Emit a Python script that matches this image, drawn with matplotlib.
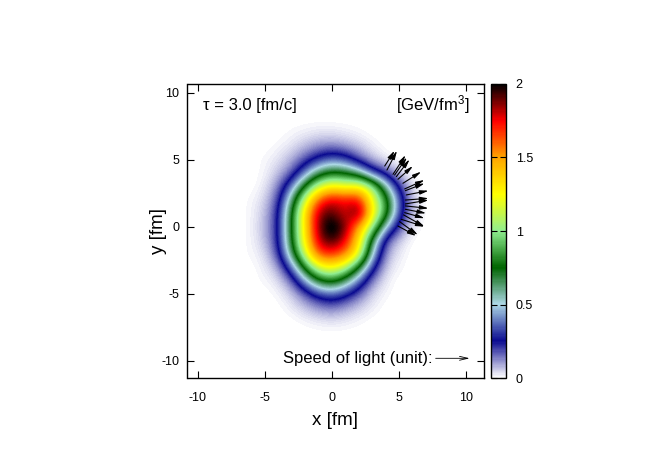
import numpy as np
import matplotlib
matplotlib.use("Agg")
import matplotlib.pyplot as plt
from matplotlib.colors import LinearSegmentedColormap

plt.rcParams['font.family'] = ['Liberation Sans', 'DejaVu Sans']
plt.rcParams['mathtext.fontset'] = 'custom'
plt.rcParams['mathtext.rm'] = 'Liberation Sans'
plt.rcParams['mathtext.default'] = 'regular'
plt.rcParams['axes.unicode_minus'] = False
plt.rcParams['axes.linewidth'] = 1.0

# energy density, one row per y = 8 ... -8, one column per x = -7 ... 8
grid_x = [-7, -6, -5, -4, -3, -2, -1, 0, 1, 2, 3, 4, 5, 6, 7, 8]
grid_y = [8, 7, 6, 5, 4, 3, 2, 1, 0, -1, -2, -3, -4, -5, -6, -7, -8]
density = [
    [0, 0, 0, 0, 0, 0, 0, 0, 0, 0, 0, 0, 0, 0, 0, 0],
    [0, 0, 0, 0, .01, .02, .03, .03, .02, .01, 0, 0, 0, 0, 0, 0],
    [0, 0, 0, .01, .03, .07, .11, .13, .10, .06, .02, 0, 0, 0, 0, 0],
    [0, 0, .01, .03, .08, .18, .30, .38, .33, .18, .07, .02, 0, 0, 0, 0],
    [0, 0, .01, .06, .16, .40, .66, .78, .75, .62, .35, .20, .04, 0, 0, 0],
    [0, 0, .02, .12, .38, .78, 1.15, 1.32, 1.22, 1.3, 1.05, .60, .22, .02, 0, 0],
    [0, .01, .04, .18, .60, 1.15, 1.65, 1.8, 1.75, 1.78, 1.25, .85, .36, .05, 0, 0],
    [0, .01, .06, .22, .72, 1.35, 1.85, 1.95, 1.75, 1.98, 1.3, .85, .33, .05, 0, 0],
    [0, .01, .07, .22, .74, 1.32, 1.88, 2.1, 1.9, 1.5, 1.05, .50, .18, .02, 0, 0],
    [0, .01, .06, .22, .72, 1.3, 1.82, 1.98, 1.78, 1.35, .68, .18, .05, 0, 0, 0],
    [0, .01, .03, .18, .62, 1.15, 1.65, 1.7, 1.58, 1.25, .52, .10, .02, 0, 0, 0],
    [0, 0, .02, .08, .36, .80, 1.18, 1.28, 1.12, .75, .30, .05, .01, 0, 0, 0],
    [0, 0, .01, .03, .14, .44, .72, .82, .65, .38, .12, .02, 0, 0, 0, 0],
    [0, 0, 0, .01, .05, .16, .30, .36, .28, .16, .04, .01, 0, 0, 0, 0],
    [0, 0, 0, 0, .02, .06, .11, .14, .10, .05, .02, 0, 0, 0, 0, 0],
    [0, 0, 0, 0, 0, .01, .02, .03, .02, .01, 0, 0, 0, 0, 0, 0],
    [0, 0, 0, 0, 0, 0, 0, 0, 0, 0, 0, 0, 0, 0, 0, 0],
]

# arrows, tail and tip in fm
tail_x = [3.96, 4.13, 4.58, 4.70, 4.83, 4.95, 5.32, 5.45, 5.50, 5.57, 5.50, 5.50, 5.50, 5.50, 5.45, 5.37, 5.20, 5.07, 4.95]
tail_y = [4.55, 4.25, 3.93, 3.88, 3.76, 3.56, 3.26, 2.84, 2.71, 2.39, 2.01, 1.72, 1.57, 1.32, 1.07, 0.90, 0.57, 0.40, 0.07]
tip_x = [4.70, 4.88, 5.52, 5.62, 5.82, 6.07, 6.69, 6.94, 6.94, 7.24, 7.24, 7.24, 7.24, 7.06, 6.94, 6.94, 6.94, 6.44, 6.32]
tip_y = [5.70, 5.70, 5.37, 5.20, 5.05, 4.55, 4.13, 3.51, 3.26, 2.71, 2.14, 2.01, 1.39, 1.02, 0.65, 0.02, 0.02, -0.60, -0.67]

# palette
pal_values = [0, 0.25, 0.5, 0.75, 1.0, 1.25, 1.5, 1.75, 2.0]
pal_colors = ['white', '#0a0a90', 'lightblue', 'darkgreen', 'lightgreen', 'yellow', 'orange', 'red', 'black']
xticks = [-10, -5, 0, 5, 10]
yticks = [-10, -5, 0, 5, 10]
cticks = [0, 0.5, 1, 1.5, 2]
clabels = ['0', '0.5', '1', '1.5', '2']

W, H = 670, 469
fig = plt.figure(figsize=(W / 100, H / 100), dpi=100)
ax = fig.add_axes([187.5 / W, 1 - 378 / H, 296 / W, 294 / H])
cax = fig.add_axes([491 / W, 1 - 378 / H, 15 / W, 294 / H])

cmap = LinearSegmentedColormap.from_list(
    'density', [(v / 2.0, c) for v, c in zip(pal_values, pal_colors)], N=256)
cmap.set_under('white')

dx = 0.5
im = ax.imshow(np.array(density), cmap=cmap, vmin=0, vmax=2, interpolation='bicubic',
               extent=[grid_x[0] - dx, grid_x[-1] + dx, grid_y[-1] - dx, grid_y[0] + dx],
               aspect='auto', zorder=1)

for x0, y0, x1, y1 in zip(tail_x, tail_y, tip_x, tip_y):
    ax.annotate('', xy=(x1, y1), xytext=(x0, y0), zorder=3,
                arrowprops=dict(arrowstyle='-|>,head_length=0.5,head_width=0.12', color='black',
                                lw=0.8, shrinkA=0, shrinkB=0))

ax.annotate('', xy=(10.3, -9.8), xytext=(7.76, -9.8), zorder=3,
            arrowprops=dict(arrowstyle='->,head_length=0.6,head_width=0.14', color='black',
                            lw=0.6, shrinkA=0, shrinkB=0))

ax.set_xlim(-10.75, 11.33)
ax.set_ylim(-11.27, 10.67)
ax.set_xticks(xticks)
ax.set_yticks(yticks)
ax.tick_params(direction='in', top=True, right=True, length=5, width=0.8, labelsize=9, pad=6)
ax.tick_params(axis='x', pad=10)
ax.set_xlabel('x [fm]', fontsize=13.5, labelpad=6)
ax.set_ylabel('y [fm]', fontsize=13.5, labelpad=-4)

ax.text(-9.6, 9.1, 'τ = 3.0 [fm/c]', fontsize=12, va='center', ha='left')
ax.text(10.3, 9.1, '[GeV/fm$^3$]', fontsize=12, va='center', ha='right')
ax.text(7.5, -9.8, 'Speed of light (unit):', fontsize=12, va='center', ha='right')

cb = fig.colorbar(im, cax=cax)
cb.set_ticks(cticks)
cb.set_ticklabels(clabels)
cax.tick_params(direction='in', left=True, right=True, length=4, width=0.8, labelsize=9, pad=7)

fig.savefig('out.png', dpi=100)
